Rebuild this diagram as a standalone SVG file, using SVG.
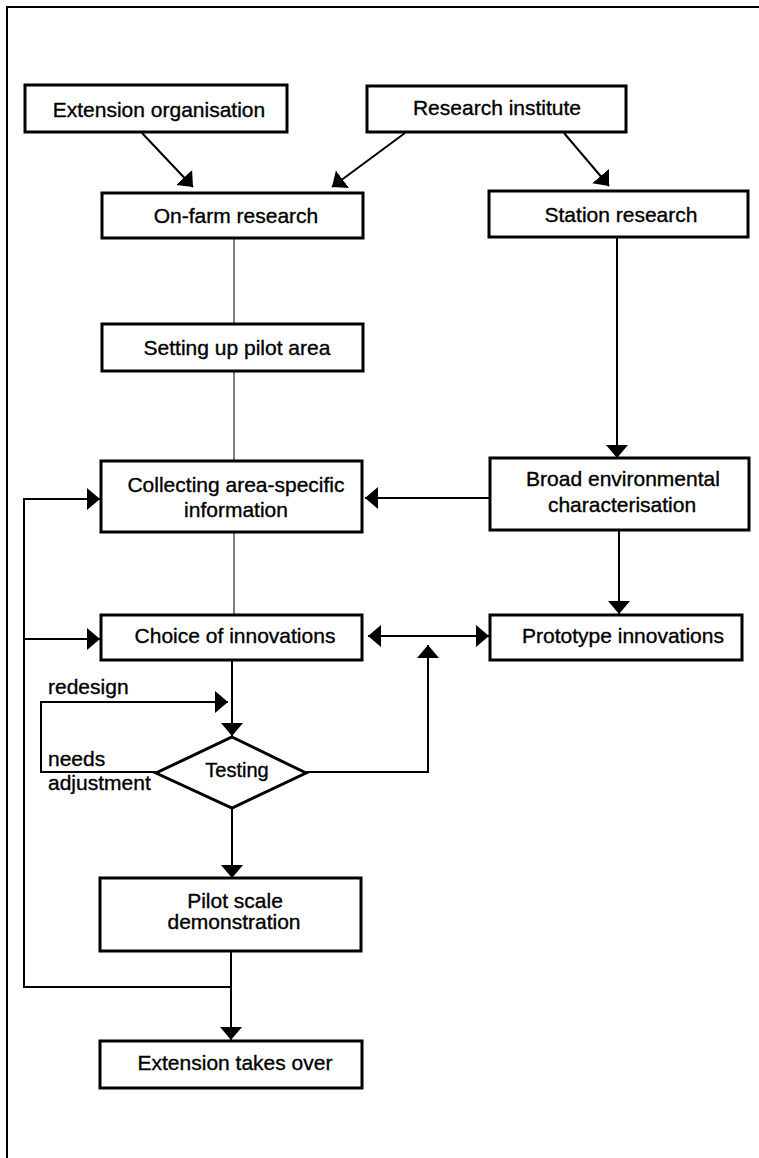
<svg xmlns="http://www.w3.org/2000/svg" width="759" height="1158" viewBox="0 0 759 1158">
<defs>
<style>
.box{fill:#fff;stroke:#000;stroke-width:3}
.ln{fill:none;stroke:#000;stroke-width:2}
.thin{fill:none;stroke:#555;stroke-width:1.5}
.t{font-family:"Liberation Sans",Arial,sans-serif;font-size:21px;fill:#000;stroke:#000;stroke-width:0.35;text-anchor:middle}
.lbl{font-family:"Liberation Sans",Arial,sans-serif;font-size:21px;fill:#000;stroke:#000;stroke-width:0.35}
</style>
<marker id="ah" markerUnits="userSpaceOnUse" markerWidth="14" markerHeight="24" refX="13" refY="11" orient="auto">
<path d="M0,0 L13,11 L0,22 z" fill="#000"/>
</marker>
<marker id="ahs" markerUnits="userSpaceOnUse" markerWidth="14" markerHeight="24" refX="13" refY="11" orient="auto-start-reverse">
<path d="M0,0 L13,11 L0,22 z" fill="#000"/>
</marker>
</defs>
<rect width="759" height="1158" fill="#fff"/>
<g id="frame">
<path d="M7,1158 L7,7 L759,7" class="ln"/>
</g>
<g id="connectors">
<line x1="142" y1="133" x2="193" y2="187" class="ln" marker-end="url(#ah)"/>
<line x1="405" y1="133" x2="332" y2="187" class="ln" marker-end="url(#ah)"/>
<line x1="564" y1="133" x2="609" y2="186" class="ln" marker-end="url(#ah)"/>
<line x1="617" y1="237" x2="617" y2="458" class="ln" marker-end="url(#ah)"/>
<line x1="490" y1="498" x2="365" y2="498" class="ln" marker-end="url(#ah)"/>
<line x1="619" y1="530" x2="619" y2="614" class="ln" marker-end="url(#ah)"/>
<line x1="368" y1="636" x2="489" y2="636" class="ln" marker-start="url(#ahs)" marker-end="url(#ah)"/>
<line x1="234" y1="238" x2="234" y2="324" class="thin"/>
<line x1="234" y1="371" x2="234" y2="461" class="thin"/>
<line x1="234" y1="532" x2="234" y2="615" class="thin"/>
<line x1="232" y1="660" x2="232" y2="736" class="ln" marker-end="url(#ah)"/>
<path d="M156,772 L41,772 L41,702 L228,702" class="ln" marker-end="url(#ah)"/>
<path d="M306,772 L428,772 L428,645" class="ln" marker-end="url(#ah)"/>
<line x1="232" y1="808" x2="232" y2="878" class="ln" marker-end="url(#ah)"/>
<line x1="231" y1="951" x2="231" y2="1040" class="ln" marker-end="url(#ah)"/>
<path d="M231,987 L24,987 L24,499 L100,499" class="ln" marker-end="url(#ah)"/>
<line x1="24" y1="639" x2="100" y2="639" class="ln" marker-end="url(#ah)"/>
</g>
<g id="n-extension-org">
<rect x="25" y="85" width="262" height="47" class="box"/>
<text x="159" y="117" class="t">Extension organisation</text>
</g>
<g id="n-research-institute">
<rect x="367" y="86" width="259" height="46" class="box"/>
<text x="497" y="115" class="t">Research institute</text>
</g>
<g id="n-onfarm">
<rect x="102" y="193" width="261" height="45" class="box"/>
<text x="236" y="223" class="t">On-farm research</text>
</g>
<g id="n-station">
<rect x="489" y="191" width="259" height="46" class="box"/>
<text x="621" y="222" class="t">Station research</text>
</g>
<g id="n-setting">
<rect x="102" y="324" width="261" height="47" class="box"/>
<text x="237" y="355" class="t">Setting up pilot area</text>
</g>
<g id="n-collecting">
<rect x="101" y="461" width="261" height="71" class="box"/>
<text x="236" y="492" class="t">Collecting area-specific</text>
<text x="236" y="517" class="t">information</text>
</g>
<g id="n-broad">
<rect x="490" y="458" width="259" height="72" class="box"/>
<text x="623" y="486" class="t">Broad environmental</text>
<text x="622" y="512" class="t">characterisation</text>
</g>
<g id="n-choice">
<rect x="101" y="615" width="261" height="45" class="box"/>
<text x="235" y="643" class="t">Choice of innovations</text>
</g>
<g id="n-prototype">
<rect x="490" y="615" width="252" height="45" class="box"/>
<text x="623" y="643" class="t">Prototype innovations</text>
</g>
<g id="n-testing">
<polygon points="232,737 306,773 232,808 156,773" class="box"/>
<text x="237" y="777" class="t" style="font-size:20px">Testing</text>
</g>
<g id="n-pilot">
<rect x="100" y="878" width="261" height="73" class="box"/>
<text x="235" y="908" class="t">Pilot scale</text>
<text x="234" y="929" class="t">demonstration</text>
</g>
<g id="n-ext-takes-over">
<rect x="100" y="1041" width="262" height="47" class="box"/>
<text x="235" y="1070" class="t">Extension takes over</text>
</g>
<g id="labels">
<text x="48" y="694" class="lbl">redesign</text>
<text x="48" y="766" class="lbl">needs</text>
<text x="48" y="790" class="lbl">adjustment</text>
</g>
</svg>
